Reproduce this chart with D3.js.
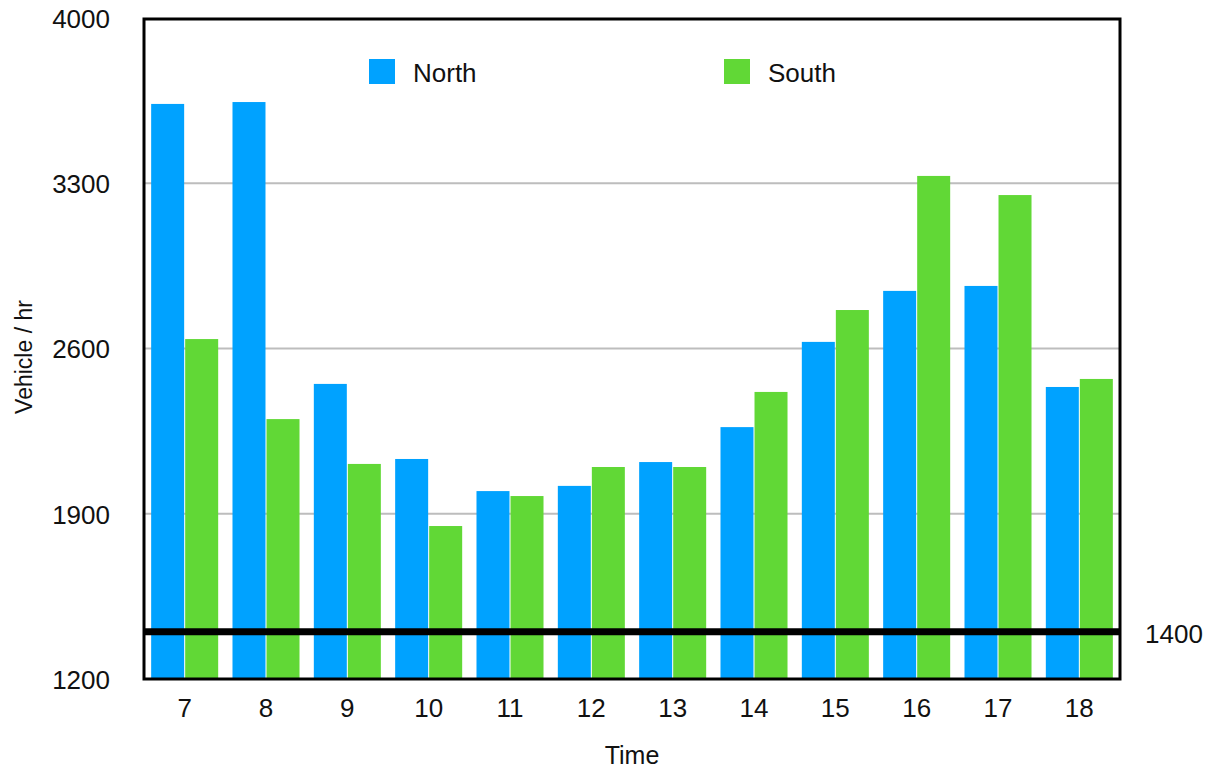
<!DOCTYPE html>
<html>
<head>
<meta charset="utf-8">
<script src="https://cdn.jsdelivr.net/npm/d3@7"></script>
<style>
  html, body { margin: 0; padding: 0; background: #fff; }
  svg { display: block; font-family: Helvetica, Arial, "Liberation Sans", sans-serif; }
</style>
</head>
<body>
<div id="chart"></div>
<script>
// --------------- Data ---------------
const hours = [7, 8, 9, 10, 11, 12, 13, 14, 15, 16, 17, 18];
const north = [3636, 3644, 2450, 2132, 1996, 2018, 2119, 2267, 2628, 2844, 2865, 2437];
const south = [2640, 2301, 2111, 1848, 1975, 2098, 2098, 2416, 2763, 3331, 3250, 2471];
const seriesNames = ["North", "South"];
const yTicks = [1200, 1900, 2600, 3300, 4000];
const gridTicks = [1900, 2600, 3300];
const thresholdValue = 1400;

// --------------- Constants ---------------
const WIDTH = 1211;
const HEIGHT = 769;
const LEFT = 144, RIGHT = 1120, TOP = 18, BOTTOM = 679;
const NORTH_COLOR = "#00a2ff";
const SOUTH_COLOR = "#61d836";
const GRID_COLOR = "#bdbdbd";
const FONT_SIZE = 26;

const svg = d3.select("#chart")
  .append("svg")
  .attr("width", WIDTH)
  .attr("height", HEIGHT);

const x = d3.scaleBand()
  .domain(hours)
  .range([LEFT, RIGHT])
  .paddingInner(0.176)
  .paddingOuter(0.088);

const xSub = d3.scaleBand()
  .domain(seriesNames)
  .range([0, x.bandwidth()])
  .paddingInner(0.03);

const y = d3.scaleLinear().domain([1200, 4000]).range([BOTTOM, TOP]);

const color = d3.scaleOrdinal().domain(seriesNames).range([NORTH_COLOR, SOUTH_COLOR]);

// grid lines
svg.append("g")
  .selectAll("line")
  .data(gridTicks)
  .enter()
  .append("line")
  .attr("x1", LEFT)
  .attr("x2", RIGHT)
  .attr("y1", (d) => y(d))
  .attr("y2", (d) => y(d))
  .attr("stroke", GRID_COLOR)
  .attr("stroke-width", 2);

// bars
const rows = hours.map((h, i) => ({ hour: h, values: [north[i], south[i]] }));
const groups = svg.append("g")
  .selectAll("g")
  .data(rows)
  .enter()
  .append("g")
  .attr("transform", (d) => `translate(${x(d.hour)},0)`);

groups.selectAll("rect")
  .data((d) => d.values.map((v, j) => ({ key: seriesNames[j], value: v })))
  .enter()
  .append("rect")
  .attr("x", (d) => xSub(d.key))
  .attr("width", xSub.bandwidth())
  .attr("y", (d) => y(d.value))
  .attr("height", (d) => y(1200) - y(d.value))
  .attr("fill", (d) => color(d.key));

// threshold line
svg.append("line")
  .attr("x1", LEFT)
  .attr("x2", RIGHT)
  .attr("y1", y(thresholdValue))
  .attr("y2", y(thresholdValue))
  .attr("stroke", "#000")
  .attr("stroke-width", 7);

svg.append("text")
  .attr("x", 1145)
  .attr("y", y(thresholdValue) + 4)
  .attr("dominant-baseline", "middle")
  .attr("font-size", FONT_SIZE)
  .attr("fill", "#111")
  .text(thresholdValue);

// frame
svg.append("rect")
  .attr("x", LEFT)
  .attr("y", TOP + 1)
  .attr("width", RIGHT - LEFT)
  .attr("height", BOTTOM - TOP - 1)
  .attr("fill", "none")
  .attr("stroke", "#000")
  .attr("stroke-width", 3);

// y axis labels
svg.append("g")
  .selectAll("text")
  .data(yTicks)
  .enter()
  .append("text")
  .attr("x", 110)
  .attr("y", (d) => y(d) + 3)
  .attr("text-anchor", "end")
  .attr("dominant-baseline", "middle")
  .attr("font-size", FONT_SIZE)
  .attr("fill", "#111")
  .text((d) => d);

// x axis labels
svg.append("g")
  .selectAll("text")
  .data(hours)
  .enter()
  .append("text")
  .attr("x", (d) => x(d) + x.bandwidth() / 2)
  .attr("y", 717)
  .attr("text-anchor", "middle")
  .attr("font-size", FONT_SIZE)
  .attr("fill", "#111")
  .text((d) => d);

// axis titles
svg.append("text")
  .attr("x", (LEFT + RIGHT) / 2)
  .attr("y", 764)
  .attr("text-anchor", "middle")
  .attr("font-size", 25)
  .attr("fill", "#111")
  .text("Time");

svg.append("text")
  .attr("transform", "translate(32,357) rotate(-90)")
  .attr("text-anchor", "middle")
  .attr("font-size", 23)
  .attr("fill", "#111")
  .text("Vehicle / hr");

// legend
const legendX = [369, 724];
const legend = svg.append("g")
  .selectAll("g")
  .data(seriesNames)
  .enter()
  .append("g")
  .attr("transform", (_d, i) => `translate(${legendX[i]},59)`);

legend.append("rect")
  .attr("width", 26)
  .attr("height", 25)
  .attr("fill", (d) => color(d));

legend.append("text")
  .attr("x", 44)
  .attr("y", 23)
  .attr("font-size", FONT_SIZE)
  .attr("fill", "#111")
  .text((d) => d);
</script>
</body>
</html>
